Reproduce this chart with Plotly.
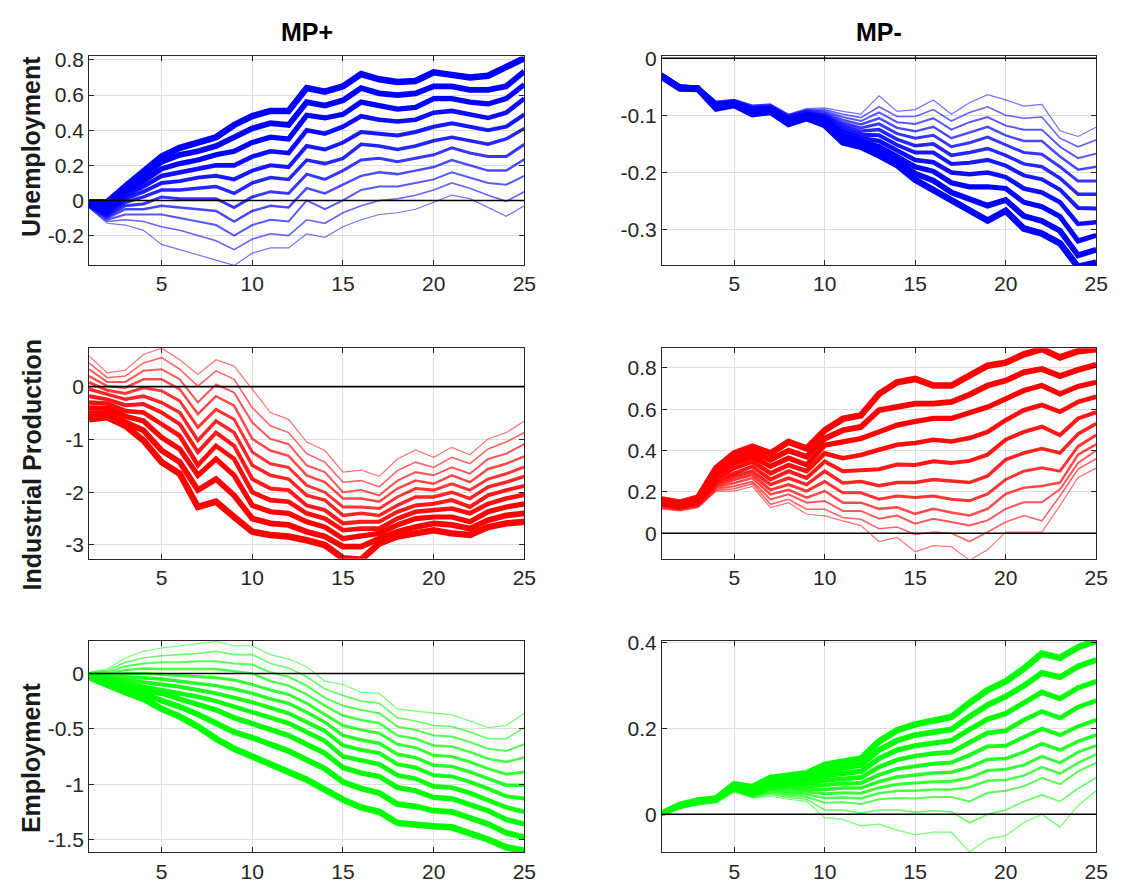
import plotly.graph_objects as go

# ---------------- data ----------------
horizon = list(range(1, 26))
x_tickvals = [5, 10, 15, 20, 25]
x_ticktext = ["5", "10", "15", "20", "25"]

col_titles = ["MP+", "MP-"]
row_titles = ["Unemployment", "Industrial Production", "Employment"]

# each panel: list of lines, ordered from thinnest to thickest
unemp_mp_pos = [
    [-0.04,-0.13,-0.14,-0.17,-0.25,-0.28,-0.31,-0.34,-0.37,-0.30,-0.27,-0.27,-0.19,-0.21,-0.15,-0.11,-0.08,-0.07,-0.05,-0.01,0.03,0.01,-0.04,-0.09,-0.03],
    [-0.04,-0.12,-0.11,-0.12,-0.15,-0.17,-0.20,-0.23,-0.28,-0.22,-0.19,-0.20,-0.11,-0.13,-0.07,-0.03,0.00,0.01,0.03,0.06,0.10,0.07,0.03,-0.005,0.05],
    [-0.03,-0.11,-0.08,-0.08,-0.08,-0.10,-0.12,-0.14,-0.20,-0.14,-0.11,-0.12,0.00,-0.05,0.00,0.06,0.08,0.08,0.10,0.12,0.16,0.13,0.10,0.09,0.14],
    [-0.03,-0.10,-0.05,-0.05,-0.03,-0.04,-0.05,-0.06,-0.12,-0.06,-0.03,-0.04,0.07,0.04,0.09,0.14,0.16,0.15,0.17,0.19,0.23,0.20,0.17,0.17,0.235],
    [-0.03,-0.09,-0.03,-0.02,0.02,0.01,0.01,0.01,-0.04,0.02,0.05,0.04,0.15,0.12,0.17,0.23,0.24,0.22,0.24,0.26,0.30,0.27,0.25,0.25,0.32],
    [-0.03,-0.08,-0.01,0.02,0.06,0.06,0.07,0.08,0.04,0.10,0.13,0.12,0.23,0.21,0.24,0.32,0.31,0.29,0.31,0.34,0.36,0.34,0.32,0.35,0.41],
    [-0.02,-0.07,0.01,0.05,0.10,0.11,0.13,0.14,0.12,0.17,0.20,0.19,0.31,0.29,0.33,0.39,0.38,0.37,0.39,0.42,0.44,0.42,0.40,0.42,0.49],
    [-0.02,-0.06,0.03,0.08,0.14,0.16,0.18,0.20,0.20,0.25,0.28,0.27,0.40,0.38,0.42,0.48,0.46,0.45,0.46,0.50,0.51,0.49,0.47,0.50,0.58],
    [-0.02,-0.04,0.05,0.11,0.18,0.21,0.23,0.26,0.28,0.33,0.36,0.35,0.485,0.47,0.49,0.56,0.54,0.52,0.53,0.58,0.58,0.56,0.55,0.58,0.66],
    [-0.01,-0.03,0.07,0.14,0.22,0.26,0.28,0.31,0.36,0.41,0.44,0.43,0.56,0.54,0.57,0.64,0.61,0.60,0.61,0.65,0.65,0.63,0.63,0.65,0.735],
    [-0.01,-0.01,0.08,0.16,0.25,0.30,0.33,0.36,0.43,0.48,0.51,0.51,0.64,0.62,0.65,0.72,0.69,0.675,0.68,0.73,0.715,0.70,0.71,0.755,0.81],
]

unemp_mp_neg = [
    [-0.026,-0.047,-0.049,-0.075,-0.072,-0.082,-0.080,-0.098,-0.088,-0.087,-0.093,-0.098,-0.066,-0.093,-0.090,-0.073,-0.098,-0.078,-0.064,-0.073,-0.084,-0.081,-0.127,-0.137,-0.121],
    [-0.027,-0.047,-0.049,-0.076,-0.073,-0.083,-0.081,-0.099,-0.090,-0.090,-0.098,-0.104,-0.085,-0.102,-0.102,-0.090,-0.110,-0.095,-0.085,-0.100,-0.105,-0.103,-0.140,-0.155,-0.143],
    [-0.027,-0.048,-0.050,-0.077,-0.074,-0.085,-0.083,-0.100,-0.091,-0.093,-0.103,-0.110,-0.095,-0.112,-0.115,-0.105,-0.125,-0.112,-0.103,-0.118,-0.125,-0.125,-0.155,-0.175,-0.167],
    [-0.028,-0.048,-0.050,-0.079,-0.075,-0.086,-0.084,-0.102,-0.093,-0.096,-0.108,-0.116,-0.105,-0.122,-0.128,-0.120,-0.140,-0.130,-0.120,-0.135,-0.145,-0.145,-0.172,-0.195,-0.190],
    [-0.028,-0.049,-0.051,-0.080,-0.076,-0.088,-0.086,-0.104,-0.095,-0.099,-0.113,-0.122,-0.115,-0.132,-0.140,-0.135,-0.155,-0.148,-0.138,-0.152,-0.165,-0.168,-0.190,-0.215,-0.215],
    [-0.029,-0.049,-0.051,-0.081,-0.077,-0.089,-0.087,-0.106,-0.097,-0.102,-0.118,-0.128,-0.125,-0.142,-0.153,-0.150,-0.170,-0.165,-0.158,-0.170,-0.185,-0.190,-0.210,-0.238,-0.238],
    [-0.030,-0.050,-0.052,-0.082,-0.078,-0.091,-0.089,-0.108,-0.099,-0.105,-0.124,-0.134,-0.135,-0.152,-0.165,-0.165,-0.185,-0.183,-0.178,-0.188,-0.205,-0.212,-0.230,-0.262,-0.263],
    [-0.030,-0.050,-0.052,-0.084,-0.079,-0.093,-0.090,-0.110,-0.100,-0.108,-0.130,-0.140,-0.145,-0.162,-0.178,-0.182,-0.200,-0.203,-0.200,-0.208,-0.228,-0.235,-0.252,-0.290,-0.287],
    [-0.031,-0.051,-0.053,-0.085,-0.080,-0.094,-0.092,-0.112,-0.102,-0.111,-0.136,-0.146,-0.155,-0.172,-0.190,-0.198,-0.218,-0.225,-0.225,-0.228,-0.252,-0.260,-0.277,-0.320,-0.310],
    [-0.032,-0.052,-0.053,-0.087,-0.081,-0.096,-0.093,-0.114,-0.104,-0.114,-0.142,-0.151,-0.163,-0.180,-0.202,-0.214,-0.235,-0.247,-0.258,-0.248,-0.276,-0.285,-0.302,-0.345,-0.335],
    [-0.033,-0.053,-0.054,-0.088,-0.082,-0.098,-0.094,-0.115,-0.105,-0.117,-0.147,-0.155,-0.170,-0.187,-0.213,-0.230,-0.250,-0.267,-0.284,-0.267,-0.298,-0.307,-0.324,-0.365,-0.358],
]

indprod_mp_pos = [
    [0.58,0.26,0.31,0.61,0.73,0.51,0.23,0.51,0.39,-0.05,-0.49,-0.62,-1.05,-1.21,-1.62,-1.58,-1.70,-1.37,-1.20,-1.34,-1.15,-1.29,-0.99,-0.87,-0.65],
    [0.45,0.17,0.20,0.45,0.55,0.33,0.01,0.30,0.14,-0.40,-0.74,-0.87,-1.27,-1.43,-1.81,-1.78,-1.90,-1.59,-1.43,-1.53,-1.34,-1.46,-1.18,-1.05,-0.87],
    [0.33,0.09,0.09,0.30,0.33,0.14,-0.30,0.04,-0.11,-0.68,-0.99,-1.09,-1.49,-1.62,-2.00,-1.96,-2.06,-1.78,-1.62,-1.68,-1.53,-1.65,-1.37,-1.27,-1.09],
    [0.20,0.01,-0.02,0.14,0.14,-0.05,-0.52,-0.18,-0.36,-0.99,-1.21,-1.31,-1.68,-1.81,-2.12,-2.12,-2.18,-1.93,-1.78,-1.84,-1.68,-1.81,-1.56,-1.46,-1.32],
    [0.08,-0.07,-0.13,-0.02,-0.08,-0.27,-0.77,-0.43,-0.62,-1.24,-1.46,-1.53,-1.87,-2.00,-2.28,-2.28,-2.31,-2.09,-1.93,-1.96,-1.84,-1.96,-1.75,-1.65,-1.52],
    [-0.05,-0.15,-0.24,-0.18,-0.30,-0.49,-1.02,-0.65,-0.87,-1.49,-1.68,-1.75,-2.06,-2.15,-2.44,-2.40,-2.44,-2.25,-2.09,-2.09,-2.00,-2.12,-1.90,-1.81,-1.70],
    [-0.18,-0.24,-0.35,-0.33,-0.49,-0.71,-1.24,-0.87,-1.12,-1.75,-1.93,-1.96,-2.25,-2.34,-2.59,-2.56,-2.56,-2.37,-2.25,-2.22,-2.15,-2.28,-2.06,-1.96,-1.88],
    [-0.30,-0.32,-0.46,-0.49,-0.71,-0.93,-1.49,-1.12,-1.37,-2.00,-2.15,-2.18,-2.40,-2.50,-2.72,-2.69,-2.69,-2.50,-2.37,-2.34,-2.31,-2.40,-2.22,-2.12,-2.05],
    [-0.40,-0.41,-0.56,-0.65,-0.96,-1.18,-1.68,-1.37,-1.68,-2.25,-2.37,-2.40,-2.56,-2.66,-2.88,-2.84,-2.78,-2.62,-2.50,-2.47,-2.47,-2.56,-2.37,-2.28,-2.22],
    [-0.50,-0.50,-0.67,-0.83,-1.21,-1.43,-1.96,-1.75,-2.06,-2.50,-2.59,-2.62,-2.75,-2.84,-3.03,-3.03,-2.88,-2.75,-2.66,-2.59,-2.62,-2.69,-2.53,-2.44,-2.40],
    [-0.62,-0.58,-0.74,-1.02,-1.43,-1.65,-2.28,-2.18,-2.47,-2.75,-2.81,-2.84,-2.91,-3.00,-3.25,-3.28,-2.97,-2.84,-2.78,-2.72,-2.78,-2.81,-2.66,-2.59,-2.56],
]

indprod_mp_neg = [
    [0.116,0.108,0.124,0.204,0.204,0.227,0.124,0.148,0.092,0.084,0.06,0.037,-0.04,-0.02,-0.09,-0.06,-0.065,-0.13,-0.08,0.006,0.006,0.006,0.134,0.27,0.315],
    [0.121,0.112,0.128,0.208,0.215,0.24,0.14,0.164,0.116,0.116,0.076,0.068,0.022,0.03,-0.006,0.006,0.0,-0.04,0.006,0.054,0.086,0.06,0.18,0.31,0.36],
    [0.126,0.116,0.133,0.215,0.227,0.25,0.164,0.188,0.148,0.156,0.108,0.108,0.07,0.086,0.046,0.07,0.054,0.038,0.062,0.118,0.15,0.15,0.213,0.34,0.40],
    [0.130,0.120,0.138,0.223,0.243,0.267,0.188,0.21,0.172,0.204,0.148,0.148,0.118,0.126,0.094,0.118,0.10,0.086,0.118,0.19,0.22,0.229,0.245,0.38,0.43],
    [0.135,0.124,0.143,0.232,0.26,0.283,0.21,0.235,0.204,0.25,0.196,0.196,0.165,0.18,0.173,0.18,0.165,0.157,0.19,0.26,0.30,0.316,0.30,0.42,0.475],
    [0.140,0.128,0.148,0.243,0.275,0.30,0.235,0.267,0.235,0.30,0.243,0.25,0.23,0.245,0.245,0.26,0.253,0.245,0.277,0.356,0.388,0.41,0.388,0.48,0.53],
    [0.145,0.132,0.152,0.254,0.29,0.323,0.26,0.30,0.267,0.347,0.30,0.307,0.31,0.332,0.33,0.348,0.34,0.35,0.38,0.452,0.49,0.515,0.475,0.555,0.585],
    [0.150,0.136,0.157,0.267,0.315,0.347,0.29,0.33,0.30,0.386,0.363,0.378,0.404,0.428,0.436,0.452,0.444,0.46,0.49,0.547,0.595,0.62,0.587,0.635,0.66],
    [0.154,0.140,0.162,0.283,0.34,0.37,0.323,0.363,0.33,0.426,0.442,0.458,0.49,0.523,0.54,0.555,0.555,0.58,0.61,0.65,0.69,0.714,0.674,0.71,0.73],
    [0.159,0.144,0.167,0.30,0.363,0.394,0.355,0.40,0.37,0.458,0.498,0.514,0.595,0.61,0.627,0.627,0.635,0.67,0.714,0.738,0.778,0.794,0.76,0.79,0.815],
    [0.164,0.148,0.172,0.315,0.386,0.418,0.386,0.442,0.41,0.498,0.553,0.57,0.674,0.73,0.746,0.714,0.714,0.76,0.81,0.825,0.865,0.89,0.85,0.88,0.89],
]

emp_mp_pos = [
    [0.01,0.04,0.14,0.20,0.23,0.25,0.27,0.29,0.25,0.25,0.17,0.13,0.06,-0.07,-0.10,-0.17,-0.18,-0.32,-0.34,-0.36,-0.375,-0.43,-0.49,-0.47,-0.36],
    [0.005,0.025,0.10,0.14,0.16,0.17,0.18,0.20,0.17,0.17,0.09,0.05,-0.03,-0.14,-0.20,-0.25,-0.27,-0.40,-0.43,-0.47,-0.48,-0.53,-0.59,-0.59,-0.49],
    [0.0,0.01,0.065,0.09,0.10,0.10,0.11,0.11,0.09,0.08,0.01,-0.03,-0.11,-0.22,-0.29,-0.33,-0.36,-0.48,-0.51,-0.56,-0.57,-0.62,-0.68,-0.70,-0.64],
    [-0.005,-0.005,0.03,0.045,0.04,0.04,0.04,0.04,0.02,0.0,-0.07,-0.11,-0.19,-0.29,-0.38,-0.42,-0.45,-0.56,-0.59,-0.65,-0.66,-0.71,-0.77,-0.80,-0.76],
    [-0.01,-0.02,0.0,0.0,-0.01,-0.02,-0.03,-0.04,-0.06,-0.10,-0.15,-0.19,-0.27,-0.37,-0.47,-0.51,-0.54,-0.64,-0.67,-0.74,-0.75,-0.80,-0.86,-0.91,-0.89],
    [-0.015,-0.035,-0.03,-0.04,-0.05,-0.07,-0.09,-0.11,-0.14,-0.18,-0.23,-0.27,-0.35,-0.44,-0.56,-0.60,-0.63,-0.73,-0.76,-0.83,-0.84,-0.89,-0.95,-1.01,-1.01],
    [-0.02,-0.05,-0.06,-0.08,-0.10,-0.12,-0.15,-0.18,-0.22,-0.26,-0.31,-0.36,-0.44,-0.52,-0.65,-0.69,-0.72,-0.82,-0.85,-0.92,-0.93,-0.98,-1.04,-1.11,-1.13],
    [-0.025,-0.065,-0.09,-0.12,-0.14,-0.17,-0.21,-0.25,-0.30,-0.35,-0.40,-0.45,-0.53,-0.61,-0.75,-0.79,-0.82,-0.92,-0.95,-1.02,-1.03,-1.08,-1.14,-1.21,-1.25],
    [-0.03,-0.08,-0.12,-0.16,-0.18,-0.23,-0.28,-0.33,-0.40,-0.45,-0.51,-0.56,-0.64,-0.72,-0.85,-0.90,-0.93,-1.03,-1.06,-1.12,-1.13,-1.18,-1.24,-1.32,-1.36],
    [-0.033,-0.095,-0.145,-0.19,-0.24,-0.30,-0.37,-0.45,-0.53,-0.58,-0.64,-0.70,-0.78,-0.86,-0.98,-1.04,-1.08,-1.18,-1.20,-1.24,-1.25,-1.30,-1.36,-1.44,-1.48],
    [-0.035,-0.11,-0.17,-0.23,-0.32,-0.39,-0.48,-0.59,-0.68,-0.75,-0.82,-0.88,-0.96,-1.05,-1.14,-1.21,-1.25,-1.35,-1.37,-1.38,-1.39,-1.44,-1.50,-1.57,-1.60],
]

emp_mp_neg = [
    [-0.002,0.013,0.022,0.027,0.052,0.038,0.042,0.035,0.030,-0.008,-0.012,-0.027,-0.023,-0.037,-0.048,-0.042,-0.042,-0.088,-0.058,-0.05,-0.02,0.0,-0.03,0.02,0.055],
    [-0.002,0.014,0.023,0.028,0.054,0.040,0.046,0.039,0.035,0.010,0.010,0.003,0.010,0.010,0.005,0.008,0.006,-0.020,0.000,0.010,0.03,0.045,0.03,0.06,0.085],
    [-0.001,0.015,0.024,0.029,0.055,0.042,0.050,0.043,0.040,0.027,0.028,0.024,0.035,0.038,0.037,0.040,0.040,0.030,0.050,0.055,0.065,0.085,0.07,0.10,0.12],
    [-0.001,0.016,0.025,0.030,0.057,0.044,0.054,0.048,0.046,0.038,0.039,0.037,0.049,0.055,0.055,0.058,0.058,0.063,0.078,0.080,0.09,0.11,0.095,0.12,0.14],
    [0.0,0.017,0.026,0.031,0.058,0.046,0.058,0.053,0.052,0.048,0.050,0.049,0.062,0.070,0.073,0.076,0.077,0.085,0.102,0.105,0.115,0.135,0.12,0.145,0.16],
    [0.0,0.018,0.027,0.032,0.060,0.048,0.062,0.059,0.058,0.058,0.061,0.061,0.076,0.087,0.092,0.096,0.098,0.110,0.128,0.130,0.145,0.165,0.15,0.17,0.185],
    [0.0,0.018,0.028,0.033,0.062,0.051,0.066,0.065,0.065,0.068,0.072,0.073,0.092,0.106,0.113,0.118,0.121,0.138,0.158,0.160,0.18,0.20,0.185,0.205,0.22],
    [0.001,0.019,0.029,0.034,0.064,0.054,0.070,0.071,0.072,0.079,0.083,0.086,0.110,0.127,0.136,0.142,0.145,0.168,0.190,0.195,0.22,0.24,0.225,0.25,0.265],
    [0.001,0.020,0.030,0.035,0.066,0.057,0.075,0.078,0.080,0.090,0.095,0.100,0.130,0.150,0.160,0.167,0.172,0.198,0.222,0.235,0.26,0.285,0.27,0.295,0.31],
    [0.002,0.021,0.031,0.036,0.068,0.060,0.080,0.085,0.088,0.102,0.108,0.115,0.150,0.172,0.185,0.192,0.198,0.228,0.255,0.275,0.30,0.33,0.32,0.345,0.36],
    [0.002,0.022,0.032,0.037,0.070,0.063,0.085,0.092,0.096,0.115,0.123,0.130,0.170,0.196,0.210,0.220,0.227,0.260,0.290,0.310,0.34,0.375,0.365,0.39,0.405],
]

# y-axis ticks per panel
ticks_u_pos = [-0.2, 0, 0.2, 0.4, 0.6, 0.8]
ticks_u_neg = [-0.3, -0.2, -0.1, 0]
ticks_ip_pos = [-3, -2, -1, 0]
ticks_ip_neg = [0, 0.2, 0.4, 0.6, 0.8]
ticks_e_pos = [-1.5, -1, -0.5, 0]
ticks_e_neg = [0, 0.2, 0.4]

# ---------------- styling ----------------
line_widths = [1.2, 1.6, 2.0, 2.5, 3.0, 3.5, 4.0, 4.6, 5.2, 5.8, 6.5]
line_opac = [0.55, 0.6, 0.65, 0.7, 0.78, 0.85, 0.9, 0.95, 1.0, 1.0, 1.0]

W, H = 1124, 883
col_px = [(90, 530), (669, 1108)]
row_px = [(47, 258), (342, 555), (638, 852)]

panels = [
    # (row, col, data, color, yrange, yticks)
    (0, 0, unemp_mp_pos, "#0000FF", [-0.368, 0.82], ticks_u_pos),
    (0, 1, unemp_mp_neg, "#0000FF", [-0.362, 0.003], ticks_u_neg),
    (1, 0, indprod_mp_pos, "#FF0000", [-3.26, 0.73], ticks_ip_pos),
    (1, 1, indprod_mp_neg, "#FF0000", [-0.123, 0.895], ticks_ip_neg),
    (2, 0, emp_mp_pos, "#00FF00", [-1.616, 0.295], ticks_e_pos),
    (2, 1, emp_mp_neg, "#00FF00", [-0.089, 0.405], ticks_e_neg),
]

FONT = "Liberation Sans, Arial, Helvetica, sans-serif"
AX = "#262626"


def fmt(v):
    return "%g" % v


fig = go.Figure()
layout = dict(
    width=W, height=H,
    margin=dict(l=0, r=0, t=0, b=0),
    paper_bgcolor="white", plot_bgcolor="white",
    showlegend=False,
    shapes=[], annotations=[],
)

for i, (r, c, data, color, yr, yt) in enumerate(panels):
    n = i + 1
    xa = "xaxis" if n == 1 else f"xaxis{n}"
    ya = "yaxis" if n == 1 else f"yaxis{n}"
    xref = "x" if n == 1 else f"x{n}"
    yref = "y" if n == 1 else f"y{n}"
    x0, x1 = col_px[c]
    y0, y1 = row_px[r]
    common = dict(
        showline=True, linecolor=AX, linewidth=1, mirror="ticks",
        ticks="inside", ticklen=5, tickcolor=AX, tickwidth=1,
        showgrid=True, gridcolor="#dedede", gridwidth=1,
        zeroline=False,
        tickfont=dict(family=FONT, size=21, color=AX),
    )
    layout[xa] = dict(common, domain=[x0 / W, x1 / W], anchor=yref,
                      range=[1, 25], tickmode="array",
                      tickvals=x_tickvals, ticktext=x_ticktext)
    layout[ya] = dict(common, domain=[1 - y1 / H, 1 - y0 / H], anchor=xref,
                      range=yr, tickmode="array",
                      tickvals=yt, ticktext=[fmt(v) for v in yt])
    for k, series in enumerate(data):
        fig.add_trace(go.Scatter(
            x=horizon, y=series, mode="lines", xaxis=xref, yaxis=yref,
            line=dict(color=color, width=line_widths[k]),
            opacity=line_opac[k], hoverinfo="skip", showlegend=False,
        ))
    layout["shapes"].append(dict(
        type="line", xref=f"{xref} domain", yref=yref,
        x0=0, x1=1, y0=0, y1=0, line=dict(color="black", width=1.6),
        layer="above",
    ))

for c, t in enumerate(col_titles):
    x0, x1 = col_px[c]
    layout["annotations"].append(dict(
        text=t, xref="paper", yref="paper", x=(x0 + x1) / 2 / W, y=1 - 22 / H,
        showarrow=False, xanchor="center", yanchor="middle",
        font=dict(family=FONT, size=25, color="black", weight="bold"),
    ))

row_label_y = [138, 460, 756]
for r, t in enumerate(row_titles):
    layout["annotations"].append(dict(
        text=t, xref="paper", yref="paper", x=32 / W, y=1 - row_label_y[r] / H,
        showarrow=False, xanchor="center", yanchor="middle", textangle=-90,
        font=dict(family=FONT, size=25, color="#1a1a1a", weight="bold"),
    ))

fig.update_layout(**layout)
fig.write_html("out.html")
